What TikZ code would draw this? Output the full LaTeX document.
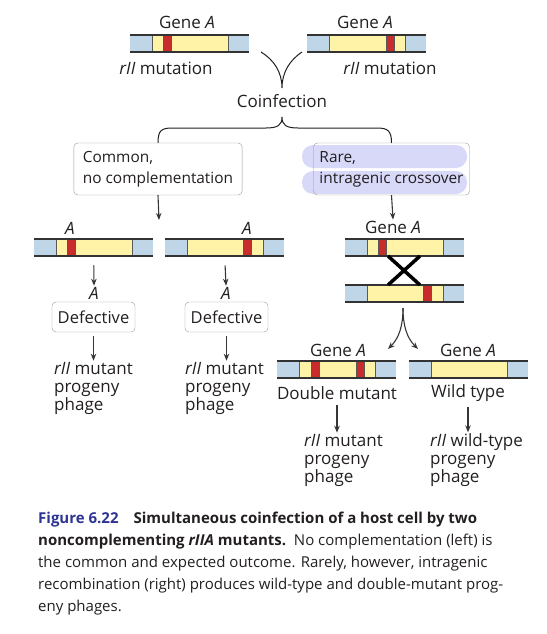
\documentclass[tikz,border=0pt]{standalone}
\usepackage{fontspec}
\setmainfont{Open Sans}
\usepackage{tikz}
\usetikzlibrary{arrows.meta,positioning,calc}
\usepackage{xcolor}

\definecolor{barblue}{RGB}{190,214,232}
\definecolor{baryellow}{RGB}{255,243,168}
\definecolor{barred}{RGB}{200,44,44}
\definecolor{pill}{RGB}{216,216,248}
\definecolor{figblue}{RGB}{46,52,146}
\definecolor{ink}{RGB}{35,31,32}

% gene bar: name, left x, top y, offsets of the red mutation marks
\newcommand{\genebar}[4]{%
  \node[inner sep=0pt,minimum width=119pt,minimum height=17pt,anchor=north west] (#1) at (#2,#3) {};
  \fill[barblue] (#2,#3) rectangle ++(119,17);
  \fill[baryellow] (#2+22,#3) rectangle (#2+98,#3+17);
  \foreach \r in {#4}{
    \fill[barred] (#2+\r,#3) rectangle (#2+\r+8,#3+17);
    \draw[divider] (#2+\r,#3) -- ++(0,17) (#2+\r+8,#3) -- ++(0,17);
  }
  \draw[divider] (#2+22,#3) -- ++(0,17) (#2+98,#3) -- ++(0,17);
  \draw[barline] (#2,#3) -- ++(119,0) (#2,#3+17) -- ++(119,0);
}

\begin{document}
\begin{tikzpicture}[x=1pt, y=-1pt,
  lbl/.style={font=\fontsize{17}{18}\selectfont, text=ink, inner sep=1pt},
  prog/.style={lbl, align=left, anchor=west},
  choice/.style={draw=gray!80, rounded corners=4pt, fill=white, align=left,
    font=\fontsize{15.4}{21}\selectfont, text=ink, inner xsep=9pt, minimum height=52pt},
  defect/.style={draw=gray!80, rounded corners=4pt, fill=white, text=ink,
    font=\fontsize{16.5}{18}\selectfont, minimum width=83pt, minimum height=30pt, inner sep=2pt},
  arr/.style={-{Stealth[length=7pt,width=5.5pt]}, ink!90, line width=1.1pt},
  divider/.style={gray!70!black, line width=0.6pt},
  barline/.style={gray!40!black, line width=1.2pt},
  crossline/.style={black, line width=3.5pt}]
\useasboundingbox (0,0) rectangle (546,634);

% two single mutants entering the cell
\genebar{barTL}{130}{35}{33}
\genebar{barTR}{307}{35}{79}
\node[lbl] (geneTL) at (187,22) {Gene \textit{A}};
\node[lbl] (geneTR) at (365,22) {Gene \textit{A}};
\node[lbl] (mutTL) at (166,68) {\textit{rII} mutation};
\node[lbl] (mutTR) at (390,68) {\textit{rII} mutation};
\node[lbl] (coinf) at (282,101) {Coinfection};
\coordinate (vL) at (261,52);
\coordinate (vR) at (302,52);
\coordinate (vTip) at (282,88);
\draw[ink, line width=1pt] (vL) .. controls (274,60) and (282,72) .. (vTip)
  .. controls (282,72) and (290,60) .. (vR);

% the two outcomes
\fill[pill, rounded corners=11pt] (302,145) rectangle (467,168);
\fill[pill, rounded corners=11pt] (302,171) rectangle (467,194);
\node[choice, minimum width=168pt] (common) at (158,169) {Common,\\no complementation};
\node[choice, fill=none, minimum width=153pt, inner xsep=6pt] (rare) at (391.5,169) {Rare,\\intragenic crossover};
\coordinate (braceTop) at (282,117);
\draw[ink, line width=1pt] (common.north) .. controls (158,131) and (161,128) .. (172,128)
  -- (266,128) .. controls (278,128) and (282,125) .. (braceTop)
  .. controls (282,125) and (286,128) .. (298,128)
  -- (377,128) .. controls (388,128) and (391.5,131) .. (rare.north);

% left: no complementation
\coordinate (gapL) at (159,220);
\draw[arr] (common.south) -- (gapL);
\genebar{barL1}{34}{239}{33}
\genebar{barL2}{165}{239}{78}
\node[lbl] (aL1) at (70,228) {\textit{A}};
\node[lbl] (aL2) at (247,228) {\textit{A}};
\node[lbl] (aD1) at (94,293) {\textit{A}};
\node[lbl] (aD2) at (226,293) {\textit{A}};
\draw[arr, shorten <=9pt] (barL1.south) -- (aD1.north);
\draw[arr, shorten <=9pt] (barL2.south) -- (aD2.north);
\node[defect] (def1) at (93.5,317) {Defective};
\node[defect] (def2) at (226.5,317) {Defective};
\node[prog] (prog1) at (53,388) {\textit{rII} mutant\\progeny\\phage};
\node[prog] (prog2) at (184,388) {\textit{rII} mutant\\progeny\\phage};
\draw[arr, shorten <=4pt] (def1.south) -- (def1.south |- prog1.north);
\draw[arr, shorten <=4pt] (def2.south) -- (def2.south |- prog2.north);

% right: intragenic crossover
\node[lbl] (geneX) at (393,227) {Gene \textit{A}};
\draw[arr] (rare.south) -- (geneX.north);
\genebar{barX1}{345}{239}{33}
\genebar{barX2}{345}{285}{78}
\draw[crossline] (388,256) -- (420,285) (420,256) -- (388,285);
\coordinate (split) at (403,308);
\node[lbl] (geneDM) at (338,350) {Gene \textit{A}};
\node[lbl] (geneWT) at (468,350) {Gene \textit{A}};
\draw[arr] (split) .. controls (403,326) and (399,338) .. (388,349);
\draw[arr] (split) .. controls (403,326) and (407,338) .. (418,349);
\genebar{barDM}{277}{361}{34,79}
\genebar{barWT}{409}{361}{}
\node[lbl] (dm) at (337,393) {Double mutant};
\node[lbl] (wt) at (468,393) {Wild type};
\node[prog] (prog3) at (303,460) {\textit{rII} mutant\\progeny\\phage};
\node[prog] (prog4) at (429,460) {\textit{rII} wild-type\\progeny\\phage};
\draw[arr, shorten <=4pt] (dm.south) -- (dm.south |- prog3.north);
\draw[arr, shorten <=4pt] (wt.south) -- (wt.south |- prog4.north);

% caption
\node[anchor=north west, align=left, inner sep=0pt, text=ink,
  font=\fontsize{15}{22}\selectfont] (caption) at (38,512)
  {\textcolor{figblue}{\textbf{Figure 6.22}}\quad\textbf{Simultaneous coinfection of a host cell by two}\\
   \textbf{noncomplementing \textit{rIIA} mutants.}\ \ No complementation (left) is\\
   the common and expected outcome. Rarely, however, intragenic\\
   recombination (right) produces wild-type and double-mutant prog-\\
   eny phages.};
\end{tikzpicture}
\end{document}
